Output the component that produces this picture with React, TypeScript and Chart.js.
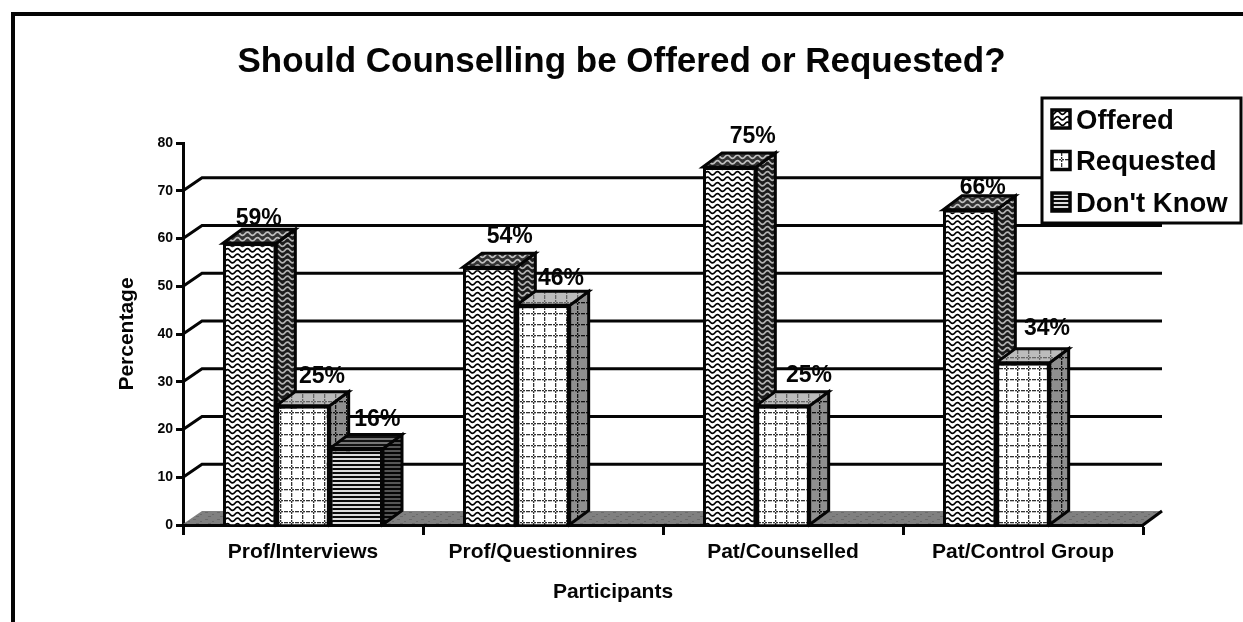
import React, { useEffect, useRef } from "react";
import { Chart, registerables } from "chart.js";

Chart.register(...registerables);

const categories = ["Prof/Interviews", "Prof/Questionnires", "Pat/Counselled", "Pat/Control Group"];
const offered = [59, 54, 75, 66];
const requested = [25, 46, 25, 34];
const dontKnow = [16, null, null, null];
const yTicks = { min: 0, max: 80, step: 10 };

// Offset of each value label from the top centre of its bar, per series then category.
const labelNudgeX = [
  [9, 20, 23, 13],
  [19, 18, 26, 24],
  [21, 0, 0, 0],
];
const labelLift = [
  [26, 31, 31, 23],
  [30, 28, 31, 35],
  [30, 0, 0, 0],
];

const FONT = '"Liberation Sans", Arial, sans-serif';
const INK = "#050505";
const DEPTH_X = 19;
const DEPTH_Y = 14;

type Painter = (c: CanvasRenderingContext2D, fg: string) => void;

function tile(w: number, h: number, bg: string, fg: string, paint: Painter): CanvasPattern {
  const cv = document.createElement("canvas");
  cv.width = w;
  cv.height = h;
  const c = cv.getContext("2d") as CanvasRenderingContext2D;
  c.fillStyle = bg;
  c.fillRect(0, 0, w, h);
  paint(c, fg);
  return c.createPattern(cv, "repeat") as CanvasPattern;
}

const wave: Painter = (c, fg) => {
  c.strokeStyle = fg;
  c.lineWidth = 1.7;
  for (const y of [2.75, 8.25]) {
    c.beginPath();
    c.moveTo(-5, y);
    c.quadraticCurveTo(-2.5, y - 3.4, 0, y);
    c.quadraticCurveTo(2.5, y + 3.4, 5, y);
    c.quadraticCurveTo(7.5, y - 3.4, 10, y);
    c.quadraticCurveTo(12.5, y + 3.4, 15, y);
    c.stroke();
  }
};

const lattice: Painter = (c, fg) => {
  c.fillStyle = fg;
  for (let i = 0; i < 11; i += 3) {
    c.fillRect(i, 5, 2, 1.3);
    c.fillRect(5, i, 1.3, 2);
  }
};

const stripes: Painter = (c, fg) => {
  c.fillStyle = fg;
  c.fillRect(0, 0, 6, 2);
};

const speckle: Painter = (c, fg) => {
  c.fillStyle = fg;
  c.fillRect(1, 1, 3, 1);
  c.fillRect(8, 3, 2, 1);
  c.fillRect(4, 5, 3, 1);
};

function faces(w: number, h: number, paint: Painter, front: string[], side: string[], top: string[]) {
  return {
    front: tile(w, h, front[0], front[1], paint),
    side: tile(w, h, side[0], side[1], paint),
    top: tile(w, h, top[0], top[1], paint),
  };
}

const solidBarDepth = {
  id: "solidBarDepth",
  beforeDatasetsDraw(chart: any, _a: any, opts: any) {
    const { ctx, chartArea, scales } = chart;
    const y = scales.y;
    const base = y.getPixelForValue(0);

    ctx.save();
    // Sheet frame
    ctx.fillStyle = INK;
    ctx.fillRect(11, 12, 1232, 4);
    ctx.fillRect(11, 12, 4, 610);

    // Floor of the chart box
    ctx.fillStyle = opts.floor;
    ctx.beginPath();
    ctx.moveTo(chartArea.left, base - 1);
    ctx.lineTo(chartArea.left + DEPTH_X, base - DEPTH_Y);
    ctx.lineTo(chartArea.right + DEPTH_X, base - DEPTH_Y);
    ctx.lineTo(chartArea.right, base - 1);
    ctx.closePath();
    ctx.fill();
    ctx.strokeStyle = INK;
    ctx.lineWidth = 3;
    ctx.beginPath();
    ctx.moveTo(chartArea.right, base);
    ctx.lineTo(chartArea.right + DEPTH_X, base - DEPTH_Y);
    ctx.stroke();

    // Gridlines on the back wall, joined to the axis by a slanted stroke
    for (const t of y.ticks) {
      if (t.value === yTicks.min || t.value === yTicks.max) continue;
      const py = y.getPixelForValue(t.value);
      ctx.beginPath();
      ctx.moveTo(chartArea.left, py);
      ctx.lineTo(chartArea.left + DEPTH_X, py - DEPTH_Y + 1);
      ctx.lineTo(chartArea.right + DEPTH_X, py - DEPTH_Y + 1);
      ctx.stroke();
    }

    // Side and top faces go under the front faces the library paints next
    chart.data.datasets.forEach((ds: any, di: number) => {
      const shade = opts.shades[di];
      chart.getDatasetMeta(di).data.forEach((bar: any, i: number) => {
        if (ds.data[i] == null) return;
        const r = bar.x + bar.width / 2;
        const l = bar.x - bar.width / 2;
        const t = bar.y;
        const b = bar.base;
        ctx.lineWidth = 3;
        ctx.lineJoin = "miter";
        ctx.strokeStyle = INK;
        ctx.fillStyle = shade.side;
        ctx.beginPath();
        ctx.moveTo(r, t);
        ctx.lineTo(r + DEPTH_X, t - DEPTH_Y);
        ctx.lineTo(r + DEPTH_X, b - DEPTH_Y);
        ctx.lineTo(r, b);
        ctx.closePath();
        ctx.fill();
        ctx.stroke();
        ctx.fillStyle = shade.top;
        ctx.beginPath();
        ctx.moveTo(l, t);
        ctx.lineTo(l + DEPTH_X, t - DEPTH_Y);
        ctx.lineTo(r + DEPTH_X, t - DEPTH_Y);
        ctx.lineTo(r, t);
        ctx.closePath();
        ctx.fill();
        ctx.stroke();
      });
    });
    ctx.restore();
  },
  afterDatasetsDraw(chart: any, _a: any, opts: any) {
    const { ctx, chartArea, scales } = chart;
    ctx.save();

    // Value labels above each column
    ctx.fillStyle = INK;
    ctx.textAlign = "center";
    ctx.textBaseline = "middle";
    ctx.font = `bold 23px ${FONT}`;
    chart.data.datasets.forEach((ds: any, di: number) => {
      chart.getDatasetMeta(di).data.forEach((bar: any, i: number) => {
        const v = ds.data[i];
        if (v == null) return;
        ctx.fillText(`${v}%`, bar.x + labelNudgeX[di][i], bar.y - labelLift[di][i] + 1);
      });
    });

    // Horizontal axis caption, centred left of the plot middle
    ctx.font = `bold 21px ${FONT}`;
    ctx.fillText("Participants", chartArea.left + 430, scales.y.getPixelForValue(0) + 67);

    // Legend panel
    const lx = 1042;
    const ly = 98;
    const lw = 199;
    const lh = 125;
    ctx.fillStyle = "#fff";
    ctx.fillRect(lx, ly, lw, lh);
    ctx.strokeStyle = INK;
    ctx.lineWidth = 3;
    ctx.strokeRect(lx, ly, lw, lh);
    ctx.textAlign = "left";
    ctx.font = `bold 27.5px ${FONT}`;
    chart.data.datasets.forEach((ds: any, di: number) => {
      const cy = ly + 21 + di * 41.5;
      ctx.fillStyle = opts.shades[di].front;
      ctx.fillRect(lx + 10, cy - 9, 18, 18);
      ctx.lineWidth = 3.5;
      ctx.strokeRect(lx + 10, cy - 9, 18, 18);
      ctx.fillStyle = INK;
      ctx.fillText(ds.label, lx + 34, cy + 2);
    });
    ctx.restore();
  },
};

export default function App() {
  const ref = useRef<HTMLCanvasElement>(null);

  useEffect(() => {
    const shades = [
      faces(10, 11, wave, ["#ffffff", "#000000"], ["#1c1c1c", "#b4b4b4"], ["#333333", "#c0c0c0"]),
      faces(11, 11, lattice, ["#ffffff", "#333333"], ["#8f8f8f", "#111111"], ["#bcbcbc", "#666666"]),
      faces(6, 4, stripes, ["#dcdcdc", "#0a0a0a"], ["#555555", "#050505"], ["#777777", "#111111"]),
    ];
    const floor = tile(12, 7, "#808080", "#6a6a6a", speckle);

    const chart = new Chart(ref.current as HTMLCanvasElement, {
      type: "bar",
      data: {
        labels: categories,
        datasets: [
          { label: "Offered", data: offered, backgroundColor: shades[0].front },
          { label: "Requested", data: requested, backgroundColor: shades[1].front },
          { label: "Don't Know", data: dontKnow, backgroundColor: shades[2].front },
        ].map((d) => ({
          ...d,
          borderColor: INK,
          borderWidth: 3,
          categoryPercentage: 2 / 3,
          barPercentage: 1,
        })),
      },
      plugins: [solidBarDepth],
      options: {
        animation: false,
        responsive: false,
        layout: { padding: { left: 100, right: 100, top: 0, bottom: 0 } },
        plugins: {
          legend: { display: false },
          tooltip: { enabled: false },
          title: {
            display: true,
            text: "Should Counselling be Offered or Requested?",
            color: INK,
            font: { family: FONT, size: 35, weight: "bold", lineHeight: 1.2 },
            padding: { top: 41, bottom: 60 },
          },
          solidBarDepth: { shades, floor },
        } as any,
        scales: {
          x: {
            grid: {
              drawOnChartArea: false,
              drawTicks: true,
              tickLength: 10,
              tickWidth: 3,
              tickColor: INK,
              offset: true,
            },
            border: { color: INK, width: 3 },
            ticks: {
              color: INK,
              padding: 5,
              maxRotation: 0,
              font: { family: FONT, size: 21, weight: "bold" },
            },
            afterFit: (s: any) => {
              s.height = 97;
            },
          },
          y: {
            min: yTicks.min,
            max: yTicks.max,
            grid: { drawOnChartArea: false, tickLength: 7, tickWidth: 3, tickColor: INK },
            border: { color: INK, width: 3 },
            ticks: {
              stepSize: yTicks.step,
              color: INK,
              padding: 3,
              font: { family: FONT, size: 14, weight: "bold" },
            },
            title: {
              display: true,
              text: "Percentage",
              color: INK,
              padding: { top: 15, bottom: 10 },
              font: { family: FONT, size: 21, weight: "bold" },
            },
            afterFit: (s: any) => {
              s.width = 83;
            },
          },
        },
      } as any,
    });
    return () => chart.destroy();
  }, []);

  return (
    <div style={{ position: "absolute", left: 0, top: 0, width: 1243, height: 622, background: "#fff" }}>
      <canvas ref={ref} width={1243} height={622} style={{ display: "block" }} />
    </div>
  );
}
